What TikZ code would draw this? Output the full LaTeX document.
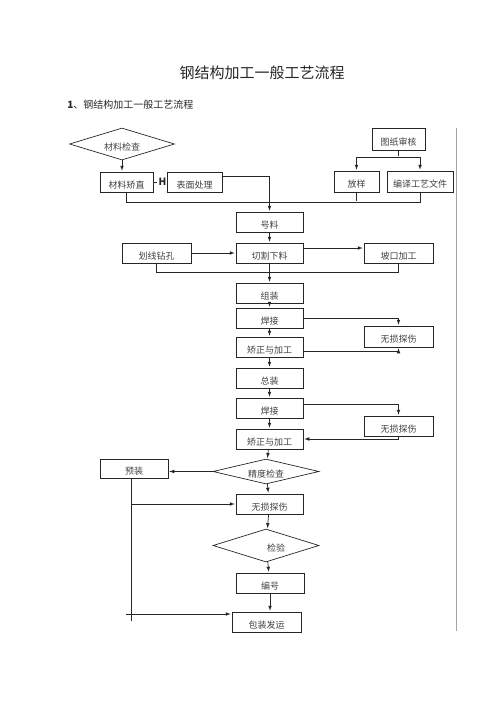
\documentclass[tikz,border=0pt]{standalone}
\usepackage{fontspec}
\setmainfont{Noto Sans CJK SC}
\usetikzlibrary{shapes.geometric}

\begin{document}
\begin{tikzpicture}[x=1pt,y=-1pt,shorten >=1pt,->,>=latex,draw=black!85,line width=0.7pt]
    \tikzstyle{every node}=[font=\fontsize{9}{9}\selectfont,text=black!75]
    \tikzstyle{process box}=[rectangle,draw=black!85,minimum width=67pt,minimum height=20pt,inner sep=0pt,text height=12pt,text depth=0pt]
    \tikzstyle{check diamond}=[diamond,draw=black!85,aspect=3.3,minimum width=106pt,inner sep=0pt,text height=12pt,text depth=0pt]
    \tikzstyle{annot}=[text=black!85,inner sep=0pt]

    \useasboundingbox (0,0) rectangle (500,707);

    % Title and heading
    \node[annot,font=\fontsize{15}{15}\selectfont] (title) at (262,73) {钢结构加工一般工艺流程};
    \node[annot,anchor=west,font=\fontsize{10}{10}\selectfont] (heading) at (67,105) {\textbf{1}、钢结构加工一般工艺流程};

    % Preparation
    \node[check diamond,minimum width=105pt,minimum height=32pt] (mat-check) at (122,144) {材料检查};
    \node[process box,minimum width=53pt] (mat-str) at (126.5,182) {材料矫直};
    \node[process box,minimum width=55pt,label={[annot,name=surf-h,font=\bfseries\fontsize{10}{10}\selectfont]west:H}] (surf) at (194.5,182) {表面处理};
    \node[process box,minimum width=53pt,minimum height=22pt] (drawing) at (398.5,139) {图纸审核};
    \node[process box,minimum width=45pt,minimum height=21pt] (layout) at (356.5,181.5) {放样};
    \node[process box,minimum width=66pt,minimum height=21pt] (doc) at (420,181.5) {编译工艺文件};

    % Main line
    \node[process box] (num-1) at (269.5,222) {号料\hspace{16pt}};
    \node[process box] (cut) at (269.5,253) {切割下料};
    \node[process box,minimum width=69pt] (drill) at (156.5,253) {划线钻孔};
    \node[process box,minimum width=69pt] (bevel) at (398.5,253) {坡口加工};
    \node[process box] (asm-1) at (269.5,293) {组装\hspace{16pt}};
    \node[process box] (weld-1) at (269.5,318) {焊接\hspace{16pt}};
    \node[process box] (corr-1) at (269.5,347) {矫正与加工};
    \node[process box,minimum width=69pt,minimum height=21pt] (ndt-1) at (398.5,336.5) {无损探伤};
    \node[process box] (asm-2) at (269.5,378) {总装\hspace{16pt}};
    \node[process box] (weld-2) at (269.5,408) {焊接\hspace{16pt}};
    \node[process box] (corr-2) at (269.5,439) {矫正与加工};
    \node[process box,minimum width=69pt] (ndt-2) at (398.5,426) {无损探伤};
    \node[check diamond,minimum height=25pt] (acc) at (266,471.5) {精度检查};
    \node[process box,minimum width=68pt,minimum height=19pt] (pre) at (134,468.5) {预装\hspace{12pt}};
    \node[process box] (ndt-3) at (269.5,504) {无损探伤};
    \node[check diamond,minimum height=33pt] (insp) at (266,545.5) {\hspace{20pt}检验};
    \node[process box,minimum width=68pt] (num-2) at (270,583) {编号\hspace{16pt}};
    \node[process box,minimum width=69pt] (pack) at (266.5,622) {包装发运};

    % Connectors
    \path (mat-check.south) edge (mat-check.south |- mat-str.north);
    \draw[-] (mat-str) -- (surf-h);
    \draw ([yshift=6pt]surf.east) -| (num-1);
    \draw[-] (drawing.south) -- ++(0,7) coordinate (split);
    \draw (split) -| (layout);
    \draw (split) -| (doc);
    \draw[-] (mat-str.south) -- ++(0,10) -| (doc.south);
    \draw[-] (layout.south) -- ++(0,10);
    \path (num-1) edge (cut);
    \path (drill) edge (cut);
    \draw ([yshift=5pt]cut.east) -- ([yshift=5pt]bevel.west);
    \draw[-] (drill.south) -- ++(0,9) -| (bevel.south);
    \path (cut) edge (asm-1);
    \path (asm-1) edge (weld-1);
    \path (weld-1) edge (corr-1);
    \draw (weld-1.east) -| (ndt-1);
    \draw ([yshift=-4pt]corr-1.east) -| (ndt-1);
    \path (corr-1) edge (asm-2);
    \path (asm-2) edge (weld-2);
    \path (weld-2) edge (corr-2);
    \draw ([yshift=4pt]weld-2.east) -| (ndt-2);
    \draw (ndt-2.south) |- (corr-2.east);
    \path (corr-2) edge (acc);
    \path (acc.west) edge (acc.west -| pre.east);
    \path (acc) edge (ndt-3);
    \coordinate (pre-foot) at ([xshift=-3pt]pre.south);
    \draw[-] (pre-foot) -- ++(0,144);
    \draw (pre-foot |- ndt-3.west) -- (ndt-3.west);
    \coordinate (pack-tail) at (126,614);
    \draw (pack-tail) -- (pack-tail -| pack.west);
    \path (ndt-3) edge (insp);
    \path (insp) edge (num-2);
    \path (num-2.south) edge (num-2.south |- pack.north);

    % Page edge
    \draw[-,black!35] (456,128) -- (456,632);
\end{tikzpicture}
\end{document}
